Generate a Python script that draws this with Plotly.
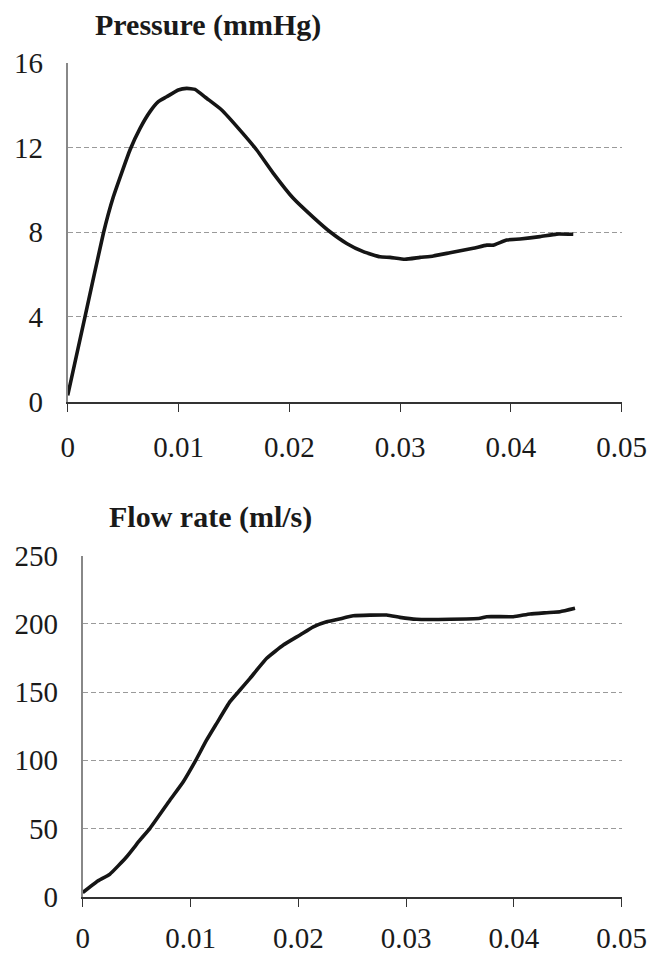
import plotly.graph_objects as go

# ---------------- data ----------------
pressure_t = [0.0, 0.00156, 0.00322, 0.00412, 0.00562, 0.00653, 0.00743, 0.00818,
              0.00893, 0.00998, 0.01074, 0.01149, 0.01254, 0.0139, 0.01555, 0.01706,
              0.01856, 0.02036, 0.02217, 0.02367, 0.02518, 0.02668, 0.02819, 0.02909,
              0.03044, 0.0318, 0.033, 0.0345, 0.0366, 0.03782, 0.03841, 0.03962,
              0.04082, 0.04263, 0.04413, 0.04563]
pressure_v = [0.3, 4.0, 7.95, 9.67, 11.88, 12.9, 13.69, 14.16,
              14.39, 14.71, 14.79, 14.74, 14.32, 13.77, 12.82, 11.88,
              10.78, 9.6, 8.7, 8.02, 7.47, 7.08, 6.84, 6.81,
              6.72, 6.81, 6.88, 7.03, 7.24, 7.39, 7.39, 7.63,
              7.68, 7.79, 7.91, 7.9]

flow_t = [0.0, 0.0013, 0.00253, 0.00408, 0.00532, 0.00624, 0.0081, 0.00933,
          0.01042, 0.0115, 0.01243, 0.01366, 0.01459, 0.01552, 0.01707, 0.01861,
          0.02016, 0.02139, 0.02263, 0.02371, 0.0251, 0.0282, 0.02943, 0.03098,
          0.03407, 0.03686, 0.03748, 0.03994, 0.0415, 0.04304, 0.04428, 0.04567]
flow_v = [3, 11, 16.6, 29.3, 41.6, 50.1, 70.9, 84.3,
          99, 114.9, 127.1, 143, 151.5, 160.1, 174.8, 184.5,
          191.9, 197.9, 201.6, 203.4, 206, 206.5, 204.8, 203.4,
          203.4, 204.1, 205.3, 205.3, 207.3, 208.2, 208.9, 211.4]

x_ticks = [0, 0.01, 0.02, 0.03, 0.04, 0.05]
x_ticklabels = ["0", "0.01", "0.02", "0.03", "0.04", "0.05"]
p_ticks = [0, 4, 8, 12, 16]
f_ticks = [0, 50, 100, 150, 200, 250]

title_p = "Pressure (mmHg)"
title_f = "Flow rate (ml/s)"

# ---------------- figure ----------------
W, H = 663, 956
FONT = "Liberation Serif, Times New Roman, serif"
TICKFONT = dict(family=FONT, size=29, color="#1a1a1a")

fig = go.Figure()
fig.add_trace(go.Scatter(x=pressure_t, y=pressure_v, mode="lines",
                         line=dict(color="#151515", width=3.6, shape="spline", smoothing=0.4),
                         xaxis="x", yaxis="y", cliponaxis=False, showlegend=False))
fig.add_trace(go.Scatter(x=flow_t, y=flow_v, mode="lines",
                         line=dict(color="#151515", width=3.6, shape="spline", smoothing=0.4),
                         xaxis="x2", yaxis="y2", cliponaxis=False, showlegend=False))

def xax(domain, anchor, standoff):
    return dict(domain=domain, anchor=anchor, range=[0, 0.05], automargin=False,
                tickmode="array", tickvals=x_ticks, ticktext=x_ticklabels,
                ticks="outside", ticklen=8, tickwidth=1.2, tickcolor="#333",
                showline=True, linecolor="#333", linewidth=1.6,
                showgrid=False, zeroline=False, tickfont=TICKFONT,
                ticklabelstandoff=standoff, fixedrange=True)

def yax(domain, anchor, ticks, rng):
    return dict(domain=domain, anchor=anchor, range=rng, automargin=False,
                tickmode="array", tickvals=ticks,
                ticks="", showline=True, linecolor="#888", linewidth=1.6,
                showgrid=True, gridcolor="#9a9a9a", gridwidth=1, griddash="5px,3px",
                zeroline=False, tickfont=TICKFONT, ticklabelstandoff=17,
                fixedrange=True)

fig.update_layout(
    width=W, height=H,
    margin=dict(l=0, r=0, t=0, b=0, autoexpand=False),
    paper_bgcolor="white", plot_bgcolor="white",
    xaxis=xax([67.7 / W, 621.7 / W], "y", 11),
    yaxis=yax([1 - 401.7 / H, 1 - 62.7 / H], "x", p_ticks, [0, 16]),
    xaxis2=xax([82.7 / W, 621.7 / W], "y2", 7),
    yaxis2=yax([1 - 896.7 / H, 1 - 555.7 / H], "x2", f_ticks, [0, 250]),
    annotations=[
        dict(text="<b>" + title_p + "</b>", xref="paper", yref="paper",
             x=208 / W, y=1 - 25 / H, xanchor="center", yanchor="middle",
             showarrow=False, font=dict(family=FONT, size=30, color="#1a1a1a")),
        dict(text="<b>" + title_f + "</b>", xref="paper", yref="paper",
             x=210 / W, y=1 - 517 / H, xanchor="center", yanchor="middle",
             showarrow=False, font=dict(family=FONT, size=30, color="#1a1a1a")),
    ],
)

fig.write_html("out.html", config={"displayModeBar": False},
               post_script="document.body.style.margin='0';document.body.style.overflow='hidden';")
